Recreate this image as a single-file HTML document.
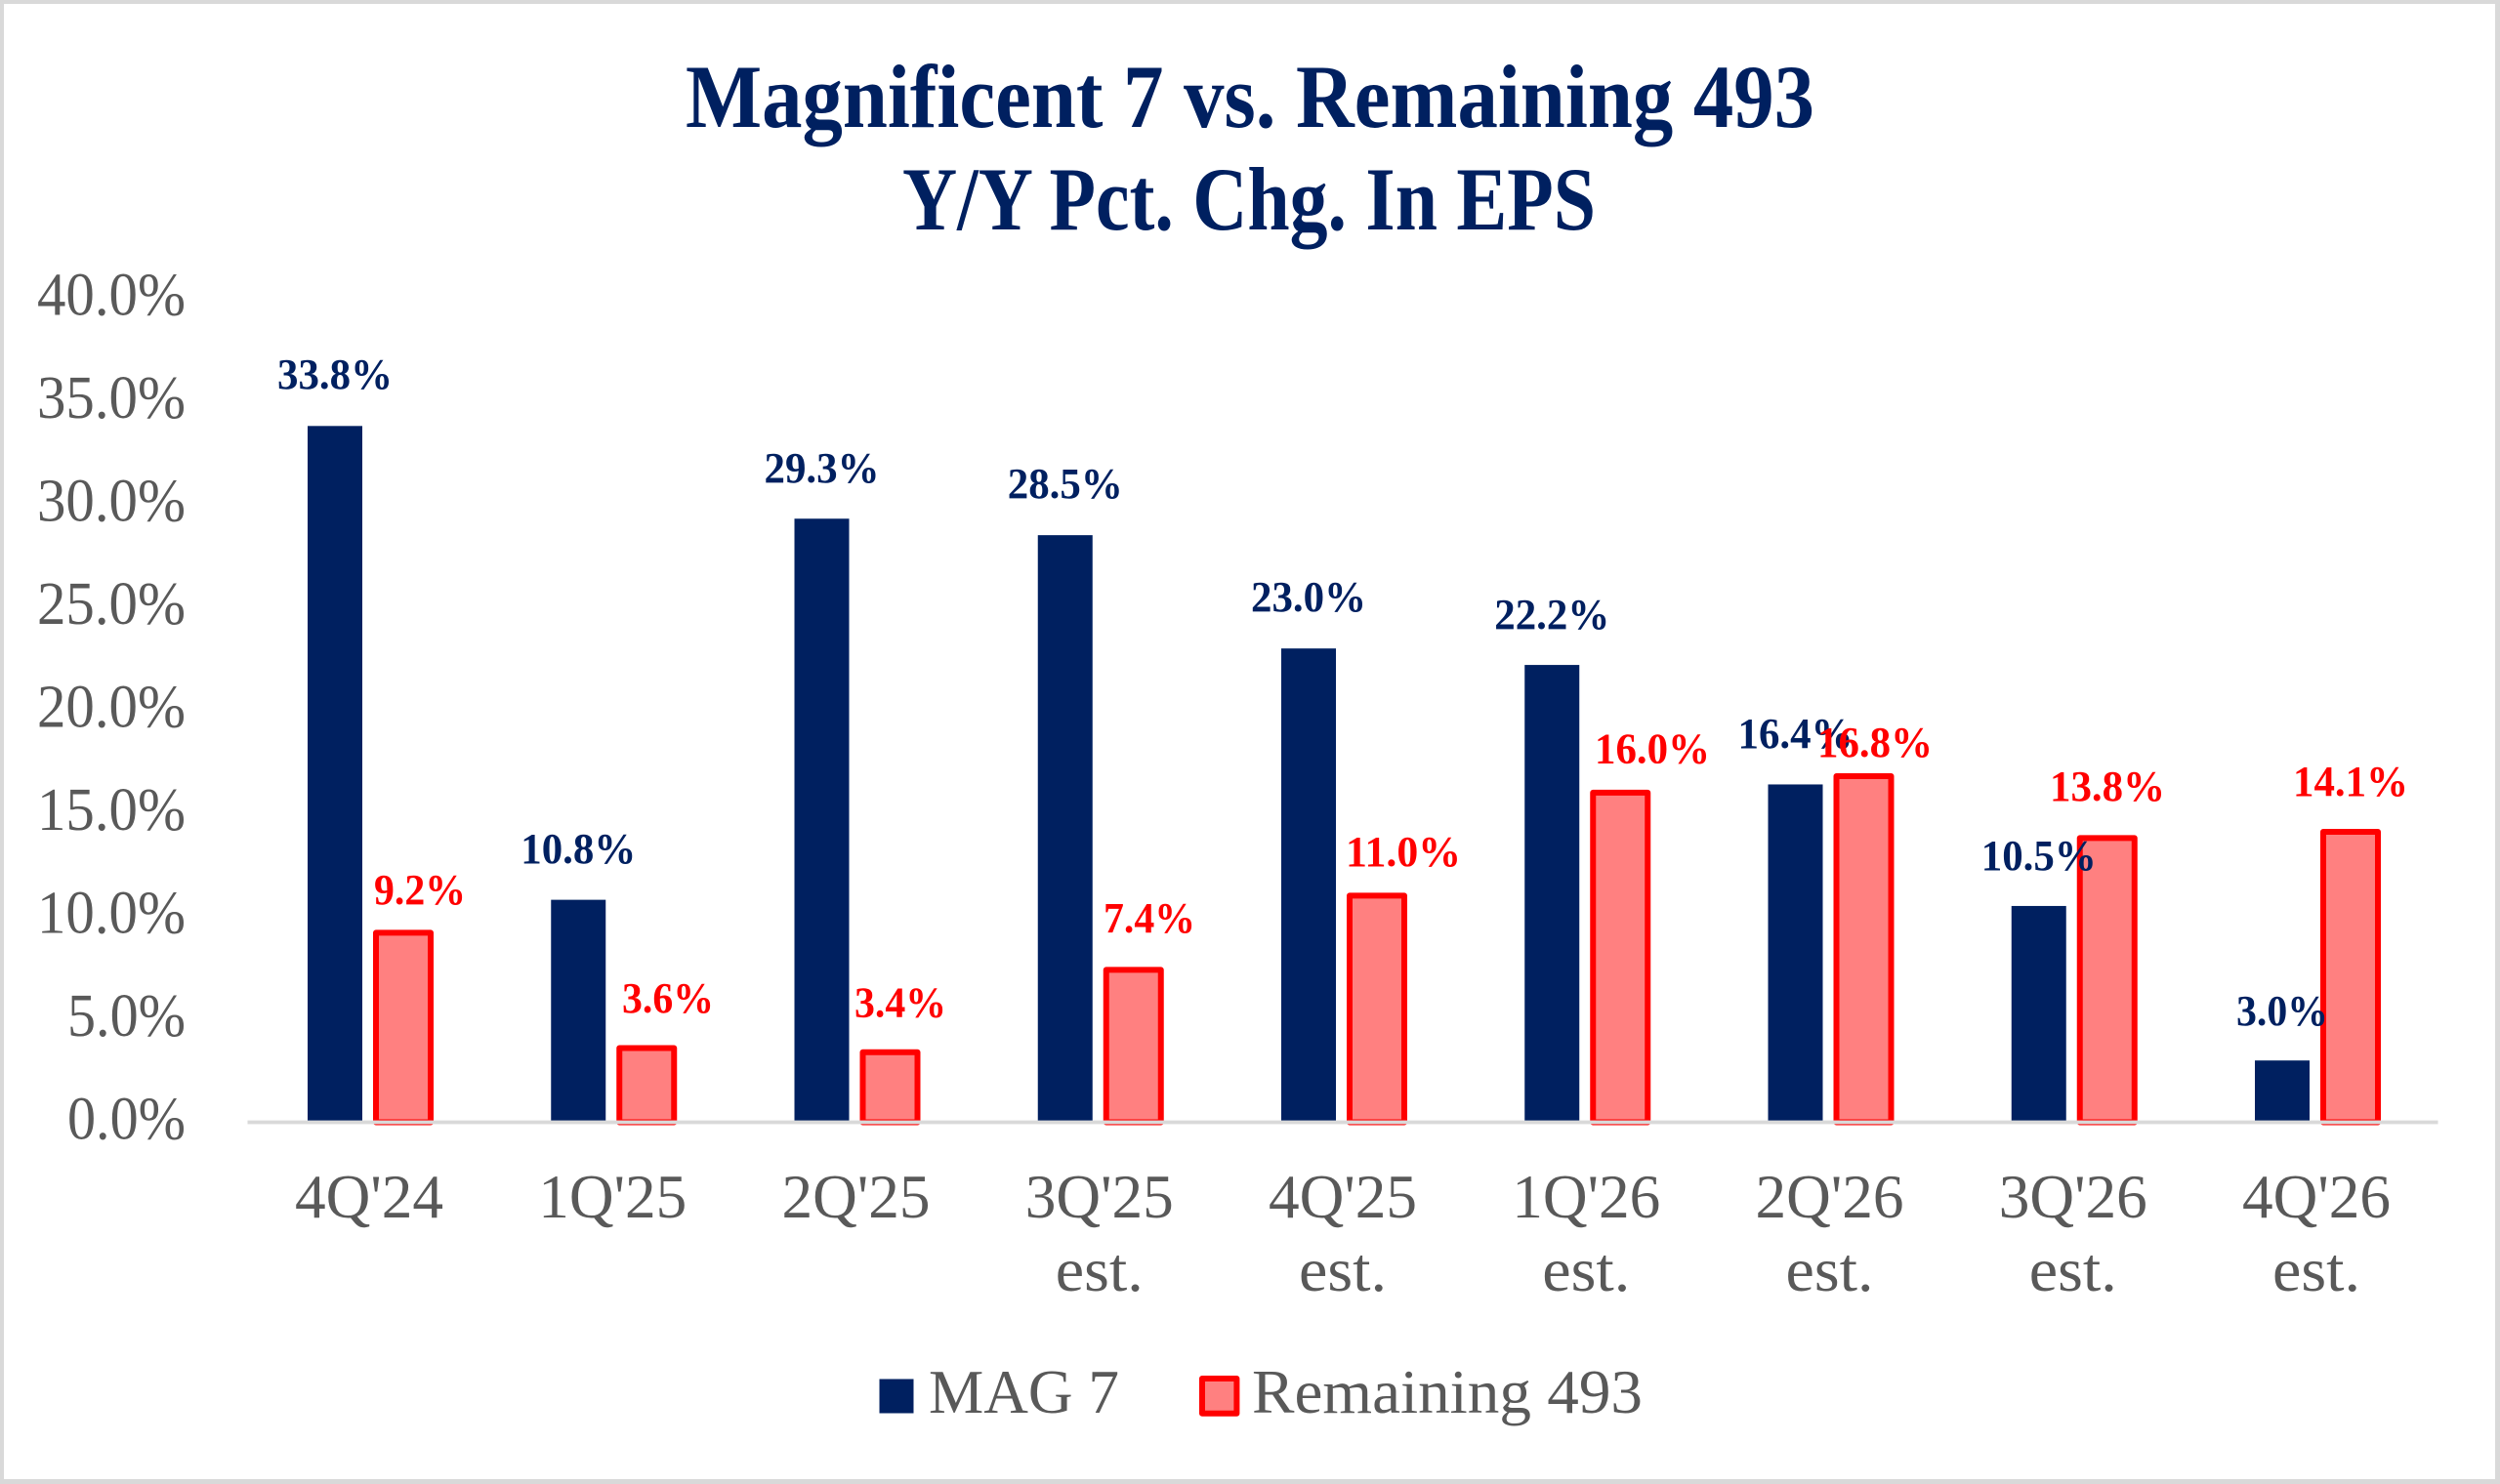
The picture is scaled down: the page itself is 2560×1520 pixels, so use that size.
<!DOCTYPE html>
<html>
<head>
<meta charset="utf-8">
<style>
  html, body { margin: 0; padding: 0; background: #ffffff; }
  svg { display: block; }
  text { font-family: "Liberation Serif", "DejaVu Serif", serif; }
</style>
</head>
<body>
<svg xmlns="http://www.w3.org/2000/svg" width="2560" height="1520" viewBox="0 0 2560 1520">
  <!-- frame -->
  <rect x="0" y="0" width="2560" height="1520" fill="#d9d9d9"/>
  <rect x="4" y="4" width="2551" height="1511" fill="#ffffff"/>

  <!-- title -->
  <g fill="#002060" font-weight="bold" font-size="92">
    <text x="702" y="130" textLength="1156" lengthAdjust="spacingAndGlyphs">Magnificent 7 vs. Remaining 493</text>
    <text x="924" y="235" textLength="710" lengthAdjust="spacingAndGlyphs">Y/Y Pct. Chg. In EPS</text>
  </g>

  <!-- y axis labels -->
  <g fill="#595959" font-size="62">
    <text x="38" y="322.7" textLength="152" lengthAdjust="spacingAndGlyphs">40.0%</text>
    <text x="38" y="428.2" textLength="152" lengthAdjust="spacingAndGlyphs">35.0%</text>
    <text x="38" y="533.7" textLength="152" lengthAdjust="spacingAndGlyphs">30.0%</text>
    <text x="38" y="639.2" textLength="152" lengthAdjust="spacingAndGlyphs">25.0%</text>
    <text x="38" y="744.7" textLength="152" lengthAdjust="spacingAndGlyphs">20.0%</text>
    <text x="38" y="850.2" textLength="152" lengthAdjust="spacingAndGlyphs">15.0%</text>
    <text x="38" y="955.7" textLength="152" lengthAdjust="spacingAndGlyphs">10.0%</text>
    <text x="69" y="1061.2" textLength="121" lengthAdjust="spacingAndGlyphs">5.0%</text>
    <text x="69" y="1166.7" textLength="121" lengthAdjust="spacingAndGlyphs">0.0%</text>
  </g>

  <!-- MAG 7 bars -->
  <g fill="#002060">
    <rect x="315" y="436.32" width="56" height="713.18"/>
    <rect x="564.25" y="921.62" width="56" height="227.88"/>
    <rect x="813.5" y="531.27" width="56" height="618.23"/>
    <rect x="1062.75" y="548.15" width="56" height="601.35"/>
    <rect x="1312" y="664.2" width="56" height="485.3"/>
    <rect x="1561.25" y="681.08" width="56" height="468.42"/>
    <rect x="1810.5" y="803.46" width="56" height="346.04"/>
    <rect x="2059.75" y="927.95" width="56" height="221.55"/>
    <rect x="2309" y="1086.2" width="56" height="63.3"/>
  </g>

  <!-- Remaining 493 bars -->
  <g fill="#ff8080" stroke="#ff0000" stroke-width="6" stroke-linejoin="round">
    <rect x="385" y="955.38" width="56" height="194.12"/>
    <rect x="634.25" y="1073.54" width="56" height="75.96"/>
    <rect x="883.5" y="1077.76" width="56" height="71.74"/>
    <rect x="1132.75" y="993.36" width="56" height="156.14"/>
    <rect x="1382" y="917.4" width="56" height="232.1"/>
    <rect x="1631.25" y="811.9" width="56" height="337.6"/>
    <rect x="1880.5" y="795.02" width="56" height="354.48"/>
    <rect x="2129.75" y="858.32" width="56" height="291.18"/>
    <rect x="2379" y="851.99" width="56" height="297.51"/>
  </g>

  <!-- x axis line -->
  <rect x="253.5" y="1147.6" width="2243" height="3.8" fill="#d9d9d9"/>

  <!-- navy data labels -->
  <g fill="#002060" font-weight="bold" font-size="44">
    <text x="284" y="398" textLength="118" lengthAdjust="spacingAndGlyphs">33.8%</text>
    <text x="533.25" y="884" textLength="118" lengthAdjust="spacingAndGlyphs">10.8%</text>
    <text x="782.5" y="494" textLength="118" lengthAdjust="spacingAndGlyphs">29.3%</text>
    <text x="1031.75" y="510" textLength="118" lengthAdjust="spacingAndGlyphs">28.5%</text>
    <text x="1281" y="626" textLength="118" lengthAdjust="spacingAndGlyphs">23.0%</text>
    <text x="1530.25" y="644" textLength="118" lengthAdjust="spacingAndGlyphs">22.2%</text>
    <text x="1779.5" y="766" textLength="118" lengthAdjust="spacingAndGlyphs">16.4%</text>
    <text x="2028.75" y="891" textLength="118" lengthAdjust="spacingAndGlyphs">10.5%</text>
    <text x="2290" y="1050" textLength="94" lengthAdjust="spacingAndGlyphs">3.0%</text>
  </g>

  <!-- red data labels -->
  <g fill="#ff0000" font-weight="bold" font-size="44">
    <text x="383" y="926" textLength="94" lengthAdjust="spacingAndGlyphs">9.2%</text>
    <text x="637" y="1037" textLength="94" lengthAdjust="spacingAndGlyphs">3.6%</text>
    <text x="875" y="1041.5" textLength="94" lengthAdjust="spacingAndGlyphs">3.4%</text>
    <text x="1130" y="955" textLength="94" lengthAdjust="spacingAndGlyphs">7.4%</text>
    <text x="1378" y="887" textLength="118" lengthAdjust="spacingAndGlyphs">11.0%</text>
    <text x="1633" y="781.5" textLength="118" lengthAdjust="spacingAndGlyphs">16.0%</text>
    <text x="1861" y="775" textLength="118" lengthAdjust="spacingAndGlyphs">16.8%</text>
    <text x="2099" y="820" textLength="118" lengthAdjust="spacingAndGlyphs">13.8%</text>
    <text x="2348" y="815" textLength="118" lengthAdjust="spacingAndGlyphs">14.1%</text>
  </g>

  <!-- x axis category labels -->
  <g fill="#595959" font-size="63">
    <text x="302" y="1247" textLength="152" lengthAdjust="spacingAndGlyphs">4Q'24</text>
    <text x="551.25" y="1247" textLength="152" lengthAdjust="spacingAndGlyphs">1Q'25</text>
    <text x="800.5" y="1247" textLength="152" lengthAdjust="spacingAndGlyphs">2Q'25</text>
    <text x="1049.75" y="1247" textLength="152" lengthAdjust="spacingAndGlyphs">3Q'25</text>
    <text x="1299" y="1247" textLength="152" lengthAdjust="spacingAndGlyphs">4Q'25</text>
    <text x="1548.25" y="1247" textLength="152" lengthAdjust="spacingAndGlyphs">1Q'26</text>
    <text x="1797.5" y="1247" textLength="152" lengthAdjust="spacingAndGlyphs">2Q'26</text>
    <text x="2046.75" y="1247" textLength="152" lengthAdjust="spacingAndGlyphs">3Q'26</text>
    <text x="2296" y="1247" textLength="152" lengthAdjust="spacingAndGlyphs">4Q'26</text>

    <text x="1080.75" y="1322" textLength="90" lengthAdjust="spacingAndGlyphs">est.</text>
    <text x="1330" y="1322" textLength="90" lengthAdjust="spacingAndGlyphs">est.</text>
    <text x="1579.25" y="1322" textLength="90" lengthAdjust="spacingAndGlyphs">est.</text>
    <text x="1828.5" y="1322" textLength="90" lengthAdjust="spacingAndGlyphs">est.</text>
    <text x="2077.75" y="1322" textLength="90" lengthAdjust="spacingAndGlyphs">est.</text>
    <text x="2327" y="1322" textLength="90" lengthAdjust="spacingAndGlyphs">est.</text>
  </g>

  <!-- legend -->
  <rect x="900.5" y="1412.5" width="35" height="35" fill="#002060"/>
  <text x="951" y="1447" font-size="63" fill="#595959" textLength="195" lengthAdjust="spacingAndGlyphs">MAG 7</text>
  <rect x="1231" y="1412" width="35.4" height="35.7" fill="#ff8080" stroke="#ff0000" stroke-width="6" stroke-linejoin="round"/>
  <text x="1282" y="1447" font-size="63" fill="#595959" textLength="400" lengthAdjust="spacingAndGlyphs">Remaining 493</text>
</svg>
</body>
</html>
